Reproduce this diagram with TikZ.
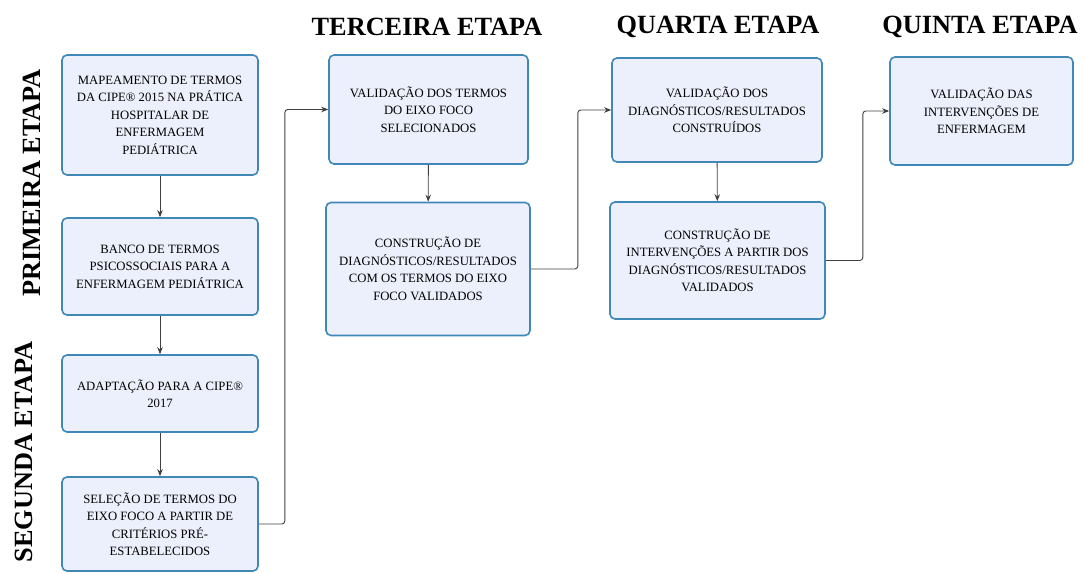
\documentclass[tikz,border=0pt]{standalone}
\usepackage{fontspec}
\setmainfont{Liberation Serif}
\usetikzlibrary{arrows.meta}
\tikzset{>={Stealth[length=7pt,width=5.5pt]}}
\definecolor{caixafill}{HTML}{ECEFFC}
\definecolor{caixaborda}{HTML}{3F88B8}
\tikzset{
  caixa/.style={draw=caixaborda, line width=1.6pt, fill=caixafill, rounded corners=5pt,
    align=center, inner sep=2pt, font=\fontsize{12.7}{17.5}\selectfont},
  etapa/.style={font=\fontsize{26.3}{28}\selectfont\bfseries},
  liga/.style={->, draw=black!75, line width=0.9pt, rounded corners=3pt}
}

\begin{document}
\begin{tikzpicture}[x=1pt, y=-1pt]
    \useasboundingbox (0,0) rectangle (1084,573);
    % titulos das etapas
    \node [etapa, rotate=90] (t1) at (32,183) {PRIMEIRA ETAPA};
    \node [etapa, rotate=90] (t2) at (24,452) {SEGUNDA ETAPA};
    \node [etapa] (t3) at (427,27) {TERCEIRA ETAPA};
    \node [etapa] (t4) at (718,27) {QUARTA ETAPA};
    \node [etapa] (t5) at (980,27) {QUINTA ETAPA};
    % primeira e segunda etapa
    \node [caixa, minimum width=196, minimum height=120] (a1) at (160,115)
        {MAPEAMENTO DE TERMOS\\DA CIPE® 2015 NA PRÁTICA\\HOSPITALAR DE\\ENFERMAGEM\\PEDIÁTRICA};
    \node [caixa, minimum width=196, minimum height=97] (a2) at (160,266.5)
        {BANCO DE TERMOS\\PSICOSSOCIAIS PARA A\\ENFERMAGEM PEDIÁTRICA};
    \node [caixa, minimum width=196, minimum height=77] (a3) at (160,393.5)
        {ADAPTAÇÃO PARA A CIPE®\\2017};
    \node [caixa, minimum width=196, minimum height=94] (a4) at (160,524)
        {SELEÇÃO DE TERMOS DO\\EIXO FOCO A PARTIR DE\\CRITÉRIOS PRÉ-\\ESTABELECIDOS};
    % terceira etapa
    \node [caixa, minimum width=199, minimum height=109] (b1) at (428.5,109.5)
        {VALIDAÇÃO DOS TERMOS\\DO EIXO FOCO\\SELECIONADOS};
    \node [caixa, minimum width=204, minimum height=133] (b2) at (428,269)
        {CONSTRUÇÃO DE\\DIAGNÓSTICOS/RESULTADOS\\COM OS TERMOS DO EIXO\\FOCO VALIDADOS};
    % quarta etapa
    \node [caixa, minimum width=210, minimum height=104] (c1) at (717,110)
        {VALIDAÇÃO DOS\\DIAGNÓSTICOS/RESULTADOS\\CONSTRUÍDOS};
    \node [caixa, minimum width=215, minimum height=117] (c2) at (717.5,260.5)
        {CONSTRUÇÃO DE\\INTERVENÇÕES A PARTIR DOS\\DIAGNÓSTICOS/RESULTADOS\\VALIDADOS};
    % quinta etapa
    \node [caixa, minimum width=183, minimum height=108] (d1) at (981.5,111)
        {VALIDAÇÃO DAS\\INTERVENÇÕES DE\\ENFERMAGEM};
    % ligacoes
    \draw [liga] (a1) -- (a2);
    \draw [liga] (a2) -- (a3);
    \draw [liga] (a3) -- (a4);
    \draw [liga] (b1) -- (b2);
    \draw [liga] (c1) -- (c2);
    \draw [liga] (a4.east) -- ++(26,0) |- (b1.west);
    \draw [liga] (b2.east) -- ++(47,0) |- (c1.west);
    \draw [liga] (c2.east) -- ++(37,0) |- (d1.west);
\end{tikzpicture}
\end{document}
